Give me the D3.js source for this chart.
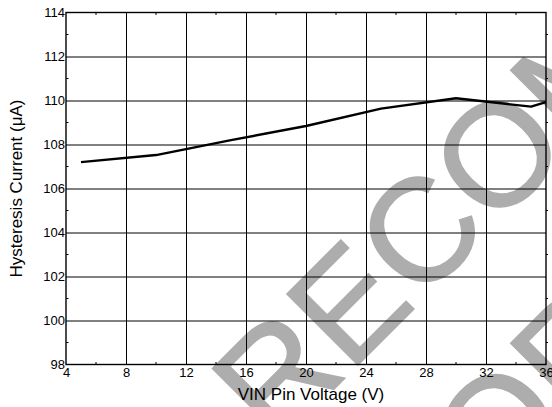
<!DOCTYPE html>
<html><head><meta charset="utf-8">
<script src="https://cdn.jsdelivr.net/npm/d3@7"></script>
<style>body{margin:0;background:#fff}svg{display:block}</style>
</head><body>
<script>
const voltage = [5, 10, 15, 20, 25, 30, 35, 36];
const current = [107.2, 107.52, 108.2, 108.84, 109.63, 110.1, 109.72, 109.93];
const xTicks = [4, 8, 12, 16, 20, 24, 28, 32, 36];
const yTicks = [98, 100, 102, 104, 106, 108, 110, 112, 114];
const xMinor = [6, 10, 14, 18, 22, 26, 30, 34];
const yMinor = [99, 101, 103, 105, 107, 109, 111, 113];
const xTitle = "VIN Pin Voltage (V)";
const yTitle = "Hysteresis Current (\u03BCA)";
const watermark = ["RECOMMENDED", "FOR NEW DESIGNS"];

const W = 552, H = 407;
const m = {left: 66, right: 6, top: 12.5, bottom: 42.5};
const font = "'Liberation Sans', Arial, Helvetica, sans-serif";

const svg = d3.select("body").append("svg").attr("width", W).attr("height", H)
  .style("font-family", font);

// watermark (behind everything)
const wm = svg.append("g").attr("fill", "#adadad").attr("stroke", "#adadad")
  .attr("stroke-width", 1.5).attr("stroke-linejoin", "miter").style("font-size", "146px");
wm.append("text").attr("transform", "translate(275,448) rotate(-45)").text(watermark[0]);
wm.append("text").attr("transform", "translate(430,566) rotate(-45)").text(watermark[1]);

const x = d3.scaleLinear().domain([4, 36]).range([m.left, W - m.right]);
const y = d3.scaleLinear().domain([98, 114]).range([H - m.bottom, m.top]);
const x0 = x.range()[0], x1 = x.range()[1], y0 = y.range()[0], y1 = y.range()[1];

// grid
svg.append("g").attr("transform", `translate(0,${y0})`)
  .call(d3.axisBottom(x).tickValues(xTicks.slice(1, -1)).tickSize(-(y0 - y1)).tickFormat(""))
  .call(g => g.select(".domain").remove())
  .call(g => g.selectAll("line").attr("stroke", "#000").attr("stroke-width", 1));
svg.append("g").attr("transform", `translate(${x0},0)`)
  .call(d3.axisLeft(y).tickValues(yTicks.slice(1, -1)).tickSize(-(x1 - x0)).tickFormat(""))
  .call(g => g.select(".domain").remove())
  .call(g => g.selectAll("line").attr("stroke", "#000").attr("stroke-width", 1));

// minor ticks
const mt = svg.append("g").attr("stroke", "#000").attr("stroke-width", 1);
xMinor.forEach(v => {
  mt.append("line").attr("x1", x(v)).attr("x2", x(v)).attr("y1", y1).attr("y2", y1 + 2.5);
  mt.append("line").attr("x1", x(v)).attr("x2", x(v)).attr("y1", y0).attr("y2", y0 - 2.5);
});
yMinor.forEach(v => {
  mt.append("line").attr("x1", x0).attr("x2", x0 + 2.5).attr("y1", y(v)).attr("y2", y(v));
  mt.append("line").attr("x1", x1).attr("x2", x1 + 2).attr("y1", y(v)).attr("y2", y(v));
});

// frame
svg.append("rect").attr("x", x0).attr("y", y1).attr("width", x1 - x0).attr("height", y0 - y1)
  .attr("fill", "none").attr("stroke", "#000").attr("stroke-width", 1.4);

// tick labels
svg.append("g").attr("transform", `translate(0,${y0})`)
  .call(d3.axisBottom(x).tickValues(xTicks).tickSize(0).tickPadding(3).tickFormat(d3.format("d")))
  .call(g => g.select(".domain").remove())
  .call(g => g.selectAll("text").attr("fill", "#000").style("font-size", "13px").style("font-family", font));
svg.append("g").attr("transform", `translate(${x0},0)`)
  .call(d3.axisLeft(y).tickValues(yTicks).tickSize(0).tickPadding(1).tickFormat(d3.format("d")))
  .call(g => g.select(".domain").remove())
  .call(g => g.selectAll("text").attr("fill", "#000").style("font-size", "13px").style("font-family", font));

// data line
svg.append("path")
  .datum(voltage.map((v, i) => [v, current[i]]))
  .attr("fill", "none").attr("stroke", "#000").attr("stroke-width", 2.4)
  .attr("stroke-linejoin", "round")
  .attr("d", d3.line().x(d => x(d[0])).y(d => y(d[1])));

// titles
svg.append("text").attr("x", 311).attr("y", 399.5).attr("text-anchor", "middle")
  .style("font-size", "17px").attr("fill", "#000").text(xTitle);
svg.append("text").attr("transform", `translate(21.5,${(y0 + y1) / 2}) rotate(-90)`)
  .attr("text-anchor", "middle").style("font-size", "17px").attr("fill", "#000").text(yTitle);
</script>
</body></html>
